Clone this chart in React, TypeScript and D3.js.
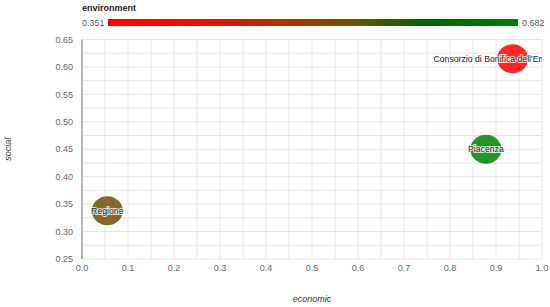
import React, { useEffect, useRef } from 'react';
import * as d3 from 'd3';

const names = ['Consorzio di Bonifica dell\'Emilia Centrale', 'Piacenza', 'Regione'];
const economic = [0.936, 0.878, 0.055];
const social = [0.615, 0.45, 0.338];
const environment = [0.351, 0.682, 0.545];
const xTicks = [0, 0.1, 0.2, 0.3, 0.4, 0.5, 0.6, 0.7, 0.8, 0.9, 1.0];
const yTicks = [0.25, 0.3, 0.35, 0.4, 0.45, 0.5, 0.55, 0.6, 0.65];
const envRange = [0.351, 0.682];
const envStops = [0, 0.1, 0.47, 0.6, 0.77, 1];
const envColors = ['#ff0000', '#fa0500', '#a33a00', '#6a5200', '#006400', '#008000'];

const W = 550;
const H = 307;
const FONT = 'Liberation Sans, Arial, sans-serif';

const App = () => {
  const ref = useRef<SVGSVGElement>(null);

  useEffect(() => {
    const svg = d3.select(ref.current);
    svg.selectAll('*').remove();

    const left = 82, right = 542, top = 39.5, bottom = 259;
    const x = d3.scaleLinear().domain([0, 1]).range([left, right]);
    const y = d3.scaleLinear().domain([0.25, 0.65]).range([bottom, top]);

    const envT = d3.scaleLinear().domain(envRange).range([0, 1]);
    const color = d3.scaleLinear<string>()
      .domain(envStops.map((t) => envT.invert(t)))
      .range(envColors);

    const defs = svg.append('defs');
    const grad = defs.append('linearGradient').attr('id', 'envgrad');
    envStops.forEach((t, i) => {
      grad.append('stop').attr('offset', `${t * 100}%`).attr('stop-color', envColors[i]);
    });
    defs.append('clipPath').attr('id', 'plotclip')
      .append('rect').attr('x', left).attr('y', top).attr('width', right - left).attr('height', bottom - top);

    // legend
    svg.append('text').attr('x', 82).attr('y', 11)
      .attr('font-family', FONT).attr('font-size', 9).attr('font-weight', 'bold').attr('fill', '#222')
      .text('environment');
    svg.append('text').attr('x', 82).attr('y', 25.5)
      .attr('font-family', FONT).attr('font-size', 9).attr('fill', '#555')
      .text(d3.format('.3f')(envRange[0]));
    svg.append('rect').attr('x', 108).attr('y', 19).attr('width', 410).attr('height', 7)
      .attr('fill', 'url(#envgrad)');
    svg.append('text').attr('x', 522).attr('y', 25.5)
      .attr('font-family', FONT).attr('font-size', 9).attr('fill', '#555')
      .text(d3.format('.3f')(envRange[1]));

    // grid
    const grid = svg.append('g');
    d3.range(0, 1.0001, 0.05).forEach((v) => {
      grid.append('line').attr('x1', x(v)).attr('x2', x(v)).attr('y1', top).attr('y2', bottom)
        .attr('stroke', '#e6e6e6').attr('stroke-width', 1);
    });
    d3.range(0.25, 0.6501, 0.025).forEach((v) => {
      grid.append('line').attr('x1', left).attr('x2', right).attr('y1', y(v)).attr('y2', y(v))
        .attr('stroke', '#e6e6e6').attr('stroke-width', 1);
    });

    // axes
    svg.append('line').attr('x1', left).attr('x2', left).attr('y1', top).attr('y2', bottom)
      .attr('stroke', '#777').attr('stroke-width', 1);

    svg.append('g').selectAll('text').data(yTicks).enter().append('text')
      .attr('x', 73).attr('y', (d) => y(d) + 3.2)
      .attr('text-anchor', 'end').attr('font-family', FONT).attr('font-size', 9).attr('fill', '#666')
      .text((d) => d3.format('.2f')(d));

    svg.append('g').selectAll('text').data(xTicks).enter().append('text')
      .attr('x', (d) => x(d)).attr('y', 271)
      .attr('text-anchor', 'middle').attr('font-family', FONT).attr('font-size', 9).attr('fill', '#666')
      .text((d) => d3.format('.1f')(d));

    svg.append('text').attr('transform', `translate(11,${(top + bottom) / 2}) rotate(-90)`)
      .attr('text-anchor', 'middle').attr('font-family', FONT).attr('font-size', 9)
      .attr('font-style', 'italic').attr('fill', '#333').text('social');
    svg.append('text').attr('x', (left + right) / 2).attr('y', 302)
      .attr('text-anchor', 'middle').attr('font-family', FONT).attr('font-size', 9)
      .attr('font-style', 'italic').attr('fill', '#333').text('economic');

    // points
    const plot = svg.append('g').attr('clip-path', 'url(#plotclip)');
    const idx = d3.range(names.length);
    plot.selectAll('ellipse').data(idx).enter().append('ellipse')
      .attr('cx', (i) => x(economic[i])).attr('cy', (i) => y(social[i]))
      .attr('rx', 15.5).attr('ry', 14.5)
      .attr('fill', (i) => color(environment[i])).attr('fill-opacity', 0.85);

    plot.selectAll('text.lbl').data(idx).enter().append('text')
      .attr('class', 'lbl')
      .attr('x', (i) => x(economic[i])).attr('y', (i) => y(social[i]) + 3.2)
      .attr('text-anchor', 'middle').attr('font-family', FONT).attr('font-size', 8.7)
      .attr('fill', '#222').attr('stroke', '#fff').attr('stroke-width', 2)
      .attr('stroke-opacity', 0.8).attr('paint-order', 'stroke')
      .text((i) => names[i]);
  }, []);

  return <svg ref={ref} width={W} height={H} style={{ position: 'absolute', left: 0, top: 0 }} />;
};

export default App;
